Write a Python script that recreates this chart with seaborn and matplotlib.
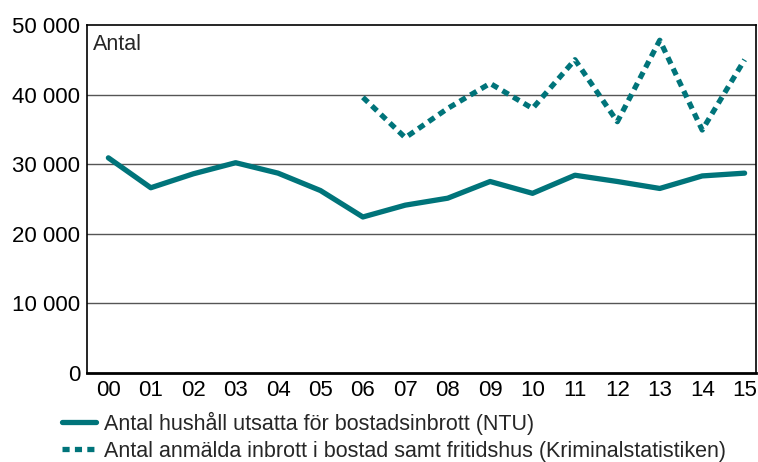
import matplotlib.pyplot as plt
import seaborn as sns
import pandas as pd
import numpy as np

sns.set_theme(style="white")
plt.rcParams['font.family'] = ['Liberation Sans', 'DejaVu Sans']

years = ['00', '01', '02', '03', '04', '05', '06', '07',
         '08', '09', '10', '11', '12', '13', '14', '15']
ntu = [30900, 26600, 28600, 30200, 28700, 26200, 22400, 24100,
       25100, 27500, 25800, 28400, 27500, 26500, 28300, 28700]
kriminal = [np.nan] * 6 + [39600, 33800, 38000, 41600, 38000, 45000,
                           36100, 47800, 34900, 45000]
label_ntu = "Antal hushåll utsatta för bostadsinbrott (NTU)"
label_krim = "Antal anmälda inbrott i bostad samt fritidshus (Kriminalstatistiken)"
yticks = [0, 10000, 20000, 30000, 40000, 50000]

df = pd.DataFrame({'x': range(len(years)), 'ntu': ntu, 'krim': kriminal})
teal = '#00747A'

fig = plt.figure(figsize=(7.58, 4.62), dpi=100)
ax = fig.add_axes([0.115, 0.193, 0.883, 0.753])

sns.lineplot(data=df, x='x', y='ntu', ax=ax, color=teal, linewidth=3.8,
             label=label_ntu, solid_capstyle='round')
sns.lineplot(data=df, x='x', y='krim', ax=ax, color=teal, linewidth=3.8,
             label=label_krim, dashes=False)
ax.lines[1].set_dashes([1.35, 1.0])

ax.set_xlim(-0.5, 15.28)
ax.set_ylim(0, 50000)
ax.set_xticks(range(len(years)))
ax.set_xticklabels(years)
ax.set_yticks(yticks)
ax.set_yticklabels([f"{v:,}".replace(',', ' ') for v in yticks])
ax.tick_params(axis='both', labelsize=16, length=0, pad=5, colors='black')
ax.set_xlabel('')
ax.set_ylabel('')
for y in yticks[1:-1]:
    ax.axhline(y, color='#555555', linewidth=1.0, zorder=0)
for s in ax.spines.values():
    s.set_color('black')
    s.set_linewidth(1.2)
ax.spines['bottom'].set_linewidth(2)

ax.text(0.008, 0.975, 'Antal', transform=ax.transAxes, fontsize=15.5,
        va='top', ha='left')

ax.legend(loc='upper left', bbox_to_anchor=(-0.037, -0.112), frameon=False,
          fontsize=15.5, handlelength=1.55, handletextpad=0.4,
          labelspacing=0.28, borderaxespad=0, borderpad=0)

fig.savefig('out.png', dpi=100)
